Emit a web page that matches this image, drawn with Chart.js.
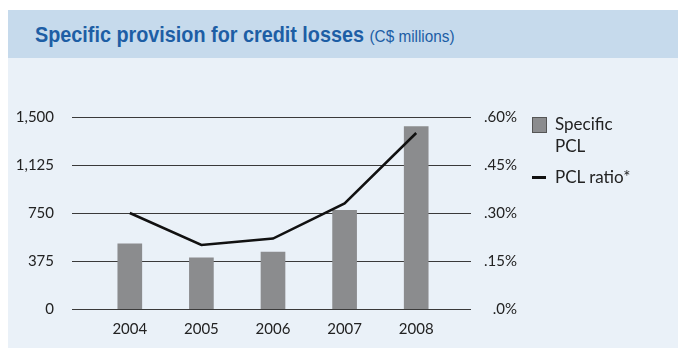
<!DOCTYPE html>
<html>
<head>
<meta charset="utf-8">
<script src="https://cdn.jsdelivr.net/npm/chart.js@4"></script>
<style>
    body { margin: 0; width: 678px; height: 350px; position: relative; background: #fff; font-family: Lato, sans-serif; overflow: hidden; }
    .band { position: absolute; left: 8px; top: 10px; width: 670px; height: 48px; background: #c6daec; }
    .band .title { position: absolute; left: 27px; top: 12px; color: #1d5ea5; font-family: 'Liberation Sans Narrow', sans-serif; font-weight: bold; font-size: 22px; white-space: nowrap; transform: scaleX(0.9); transform-origin: left center; }
    .band .title small { font-weight: normal; font-size: 17px; }
    .panel { position: absolute; left: 8px; top: 58px; width: 670px; height: 290px; background: #eaf1f8; }
    #chart { position: absolute; left: 0; top: 0; }
    .legend { position: absolute; left: 532px; top: 113px; font-size: 17px; color: #222; }
    .legend .item { position: relative; padding-left: 23px; line-height: 22px; }
    .legend .box { position: absolute; left: 0; top: 4px; width: 13px; height: 14px; background: #8b8c8e; border: 1px solid #555; }
    .legend .dash { position: absolute; left: 0; top: 10px; width: 14px; height: 3px; background: #111; }
</style>
</head>
<body>
<div class="band"><div class="title">Specific provision for credit losses <small>(C$ millions)</small></div></div>
<div class="panel"></div>
<canvas id="chart" width="678" height="350"></canvas>
<div class="legend" id="legend"></div>

<script>
    // values
    const years = ['2004', '2005', '2006', '2007', '2008'];
    const specificPcl = [510, 400, 445, 770, 1425];
    const pclRatio = [0.30, 0.20, 0.22, 0.33, 0.55];
    const leftTicks = [0, 375, 750, 1125, 1500];
    const rightTicks = ['.0%', '.15%', '.30%', '.45%', '.60%'];
    const legendLabels = ['Specific<br>PCL', 'PCL ratio*'];

    const tickFont = { family: 'Lato', size: 15 };

    // grid lines run wider than the plot area in the original
    const wideGrid = {
        id: 'wideGrid',
        beforeDatasetsDraw: function(chart) {
            const ctx = chart.ctx;
            const y = chart.scales.y;
            ctx.save();
            ctx.strokeStyle = '#3a3a3a';
            ctx.lineWidth = 1;
            leftTicks.forEach(function(v) {
                const py = Math.round(y.getPixelForValue(v)) + 0.5;
                ctx.beginPath();
                ctx.moveTo(72, py);
                ctx.lineTo(471, py);
                ctx.stroke();
            });
            ctx.restore();
        }
    };

    const config = {
        type: 'bar',
        data: {
            labels: years,
            datasets: [
                {
                    type: 'line',
                    label: 'PCL ratio*',
                    data: pclRatio,
                    yAxisID: 'y2',
                    borderColor: '#111',
                    borderWidth: 2.5,
                    pointRadius: 0,
                    tension: 0,
                    order: 0
                },
                {
                    label: 'Specific PCL',
                    data: specificPcl,
                    yAxisID: 'y',
                    backgroundColor: '#8b8c8e',
                    barThickness: 24,
                    order: 1
                }
            ]
        },
        options: {
            responsive: false,
            animation: false,
            layout: { padding: { top: 117, left: 0, right: 161, bottom: 0 } },
            plugins: { legend: { display: false }, tooltip: { enabled: false } },
            scales: {
                x: {
                    grid: { display: false },
                    border: { display: false },
                    ticks: { color: '#222', font: tickFont, padding: 3 },
                    afterFit: function(scale) { scale.height = 41; }
                },
                y: {
                    position: 'left',
                    min: 0,
                    max: 1500,
                    grid: { display: false },
                    border: { display: false },
                    ticks: {
                        stepSize: 375,
                        color: '#222',
                        font: tickFont,
                        padding: 32,
                        callback: function(value) { return value.toLocaleString('en-US'); }
                    },
                    afterFit: function(scale) { scale.width = 94; }
                },
                y2: {
                    position: 'right',
                    min: 0,
                    max: 0.6,
                    grid: { display: false },
                    border: { display: false },
                    ticks: {
                        stepSize: 0.15,
                        color: '#222',
                        font: tickFont,
                        padding: 20,
                        crossAlign: 'far',
                        callback: function(value, index) { return rightTicks[index]; }
                    },
                    afterFit: function(scale) { scale.width = 65; }
                }
            }
        },
        plugins: [wideGrid]
    };

    new Chart(document.getElementById('chart'), config);

    document.getElementById('legend').innerHTML =
        '<div class="item"><span class="box"></span>' + legendLabels[0] + '</div>' +
        '<div class="item" style="margin-top:9px"><span class="dash"></span>' + legendLabels[1] + '</div>';
</script>
</body>
</html>
